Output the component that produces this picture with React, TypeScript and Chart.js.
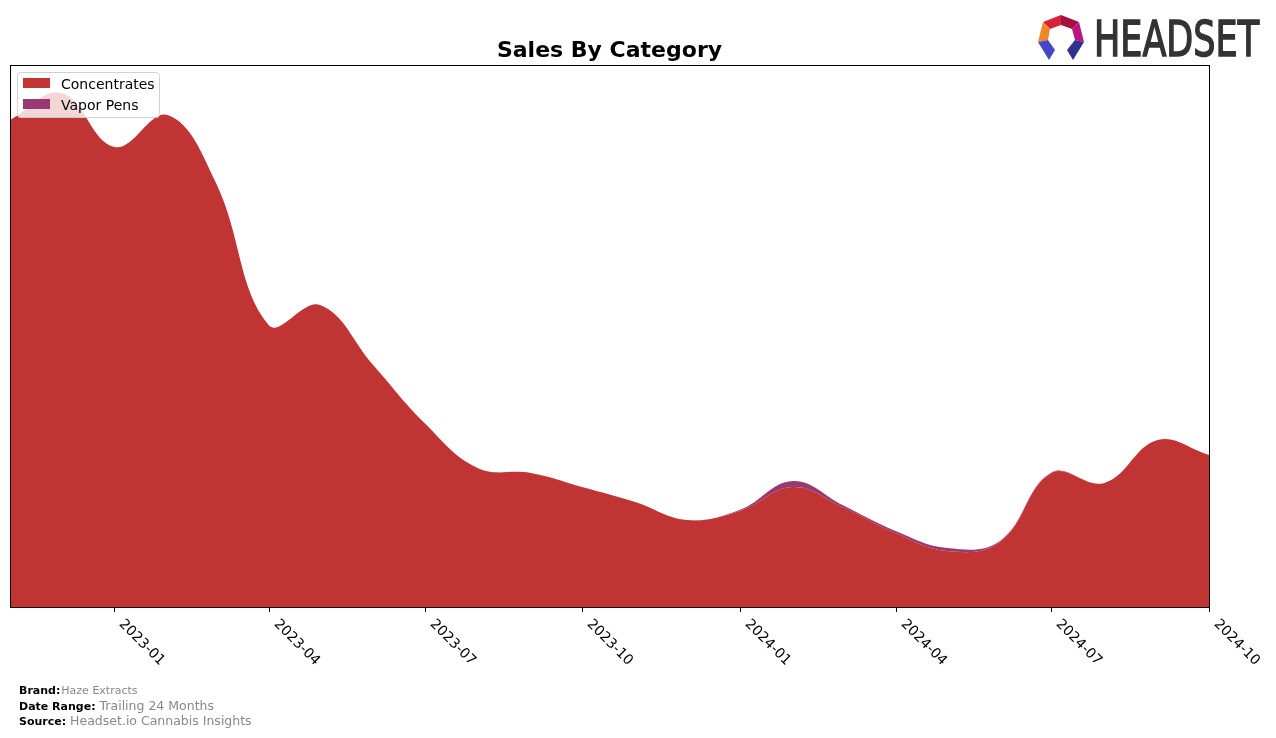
import React, { useEffect, useRef } from "react";
import { Chart, registerables } from "chart.js";

Chart.register(...registerables);

const MONTHS = [
  "2022-11", "2022-12", "2023-01", "2023-02", "2023-03", "2023-04",
  "2023-05", "2023-06", "2023-07", "2023-08", "2023-09", "2023-10",
  "2023-11", "2023-12", "2024-01", "2024-02", "2024-03", "2024-04",
  "2024-05", "2024-06", "2024-07", "2024-08", "2024-09", "2024-10",
];
const CONCENTRATES = [
  487, 514, 460, 492, 425, 282,
  302, 242, 184, 139, 134, 120,
  105, 87, 96, 120, 100, 74,
  56, 65, 134, 124, 167, 152,
];
const VAPOR_PENS = [
  0, 0, 0, 0, 0, 0,
  0, 0, 0, 0, 0, 0,
  0, 0, 1, 6, 2, 2,
  3, 1, 0.5, 0, 0, 0,
];
const TICK_LABELS = ["2023-01", "2023-04", "2023-07", "2023-10", "2024-01", "2024-04", "2024-07", "2024-10"];
const SERIES_NAMES = ["Concentrates", "Vapor Pens"];
const SERIES_COLORS = ["#c03434", "#993871"];

const FONT = "'DejaVu Sans', sans-serif";

function dayOffset(label: string): number {
  const [y, m] = label.split("-").map(Number);
  const [y0, m0] = MONTHS[0].split("-").map(Number);
  return (Date.UTC(y, m - 1, 1) - Date.UTC(y0, m0 - 1, 1)) / 86400000;
}

const overlayPlugin = {
  id: "overlay",
  afterDraw(chart: any) {
    const ctx: CanvasRenderingContext2D = chart.ctx;
    const { left, right, top, bottom } = chart.chartArea;
    const xs = chart.scales.x;
    ctx.save();

    // frame
    ctx.strokeStyle = "#000";
    ctx.lineWidth = 1;
    ctx.strokeRect(Math.round(left) + 0.5, Math.round(top) + 0.5, Math.round(right - left), Math.round(bottom - top));

    // ticks and rotated labels
    ctx.font = `14px ${FONT}`;
    ctx.fillStyle = "#000";
    ctx.textAlign = "left";
    ctx.textBaseline = "top";
    TICK_LABELS.forEach((lab) => {
      const px = Math.round(xs.getPixelForValue(dayOffset(lab)));
      ctx.beginPath();
      ctx.moveTo(px + 0.5, bottom);
      ctx.lineTo(px + 0.5, bottom + 5);
      ctx.stroke();
      ctx.save();
      ctx.translate(px + 12, bottom + 10);
      ctx.rotate(Math.PI / 4);
      ctx.fillText(lab, 0, 0);
      ctx.restore();
    });

    // title
    ctx.font = `bold 22px ${FONT}`;
    ctx.textAlign = "center";
    ctx.textBaseline = "alphabetic";
    ctx.fillText("Sales By Category", (left + right) / 2, 57);

    // legend
    ctx.beginPath();
    (ctx as any).roundRect(17.5, 72.5, 142, 45, 3);
    ctx.fillStyle = "rgba(255,255,255,0.8)";
    ctx.fill();
    ctx.strokeStyle = "rgba(204,204,204,0.9)";
    ctx.stroke();
    ctx.font = `14px ${FONT}`;
    ctx.textAlign = "left";
    ctx.textBaseline = "middle";
    SERIES_NAMES.forEach((name, i) => {
      const cy = 83 + i * 21;
      ctx.fillStyle = SERIES_COLORS[i];
      ctx.fillRect(23, cy - 5, 27, 10);
      ctx.fillStyle = "#000";
      ctx.fillText(name, 61, cy + 2);
    });

    // footer
    const footer: [string, string, number, number][] = [
      ["Brand:", "Haze Extracts", 694, 11],
      ["Date Range:", "Trailing 24 Months", 710, 12.5],
      ["Source:", "Headset.io Cannabis Insights", 725, 12.5],
    ];
    ctx.textBaseline = "alphabetic";
    footer.forEach(([b, v, y, vs]) => {
      ctx.font = `bold 11px ${FONT}`;
      ctx.fillStyle = "#000";
      ctx.fillText(b, 19, y);
      const w = ctx.measureText(b).width;
      ctx.font = `${vs}px ${FONT}`;
      ctx.fillStyle = "#888";
      ctx.fillText(v, 19 + w + (b === "Brand:" ? 1 : 4), y);
    });

    // logo icon
    const poly = (pts: number[][], color: string) => {
      ctx.beginPath();
      ctx.moveTo(pts[0][0], pts[0][1]);
      for (let i = 1; i < pts.length; i++) ctx.lineTo(pts[i][0], pts[i][1]);
      ctx.closePath();
      ctx.fillStyle = color;
      ctx.fill();
    };
    poly([[1043, 22], [1061, 15], [1061, 25], [1050, 29]], "#d8203a");
    poly([[1061, 15], [1079, 22], [1072, 29], [1061, 25]], "#a3123f");
    poly([[1079, 22], [1084, 42], [1075, 40], [1072, 29]], "#b8177d");
    poly([[1043, 22], [1050, 29], [1048, 40], [1038, 42]], "#f0862a");
    poly([[1038, 42], [1048, 40], [1055, 50], [1049, 60]], "#4446c4");
    poly([[1084, 42], [1075, 40], [1067, 50], [1073, 60]], "#30308f");

    // logo text
    ctx.font = `50px ${FONT}`;
    ctx.fillStyle = "#333";
    ctx.strokeStyle = "#333";
    ctx.lineWidth = 1.6;
    ctx.textAlign = "left";
    ctx.textBaseline = "alphabetic";
    const tw = ctx.measureText("HEADSET").width;
    ctx.save();
    ctx.translate(1094, 56);
    ctx.scale(165 / tw, 1);
    ctx.fillText("HEADSET", 0, 0);
    ctx.strokeText("HEADSET", 0, 0);
    ctx.restore();

    ctx.restore();
  },
};

export default function App() {
  const ref = useRef<HTMLCanvasElement | null>(null);
  useEffect(() => {
    if (!ref.current) return;
    const xVals = MONTHS.map(dayOffset);
    const chart = new Chart(ref.current, {
      type: "line",
      data: {
        datasets: [
          {
            label: SERIES_NAMES[0],
            data: CONCENTRATES.map((v, i) => ({ x: xVals[i], y: v })),
            backgroundColor: SERIES_COLORS[0],
            borderColor: SERIES_COLORS[0],
            borderWidth: 0,
            pointRadius: 0,
            fill: "origin",
            tension: 0.4,
          },
          {
            label: SERIES_NAMES[1],
            data: VAPOR_PENS.map((v, i) => ({ x: xVals[i], y: v })),
            backgroundColor: SERIES_COLORS[1],
            borderColor: SERIES_COLORS[1],
            borderWidth: 0,
            pointRadius: 0,
            fill: "-1",
            tension: 0.4,
          },
        ],
      },
      options: {
        animation: false,
        responsive: false,
        layout: { padding: { left: 10, right: 67, top: 65, bottom: 131 } },
        plugins: { legend: { display: false }, tooltip: { enabled: false }, title: { display: false } },
        scales: {
          x: { type: "linear", display: false, min: 0, max: xVals[xVals.length - 1] },
          y: { display: false, stacked: true, min: 0, max: 542 },
        },
      },
      plugins: [overlayPlugin],
    });
    return () => chart.destroy();
  }, []);
  return (
    <div style={{ position: "absolute", left: 0, top: 0, width: 1276, height: 738, background: "#fff" }}>
      <canvas ref={ref} width={1276} height={738} style={{ display: "block" }} />
    </div>
  );
}
